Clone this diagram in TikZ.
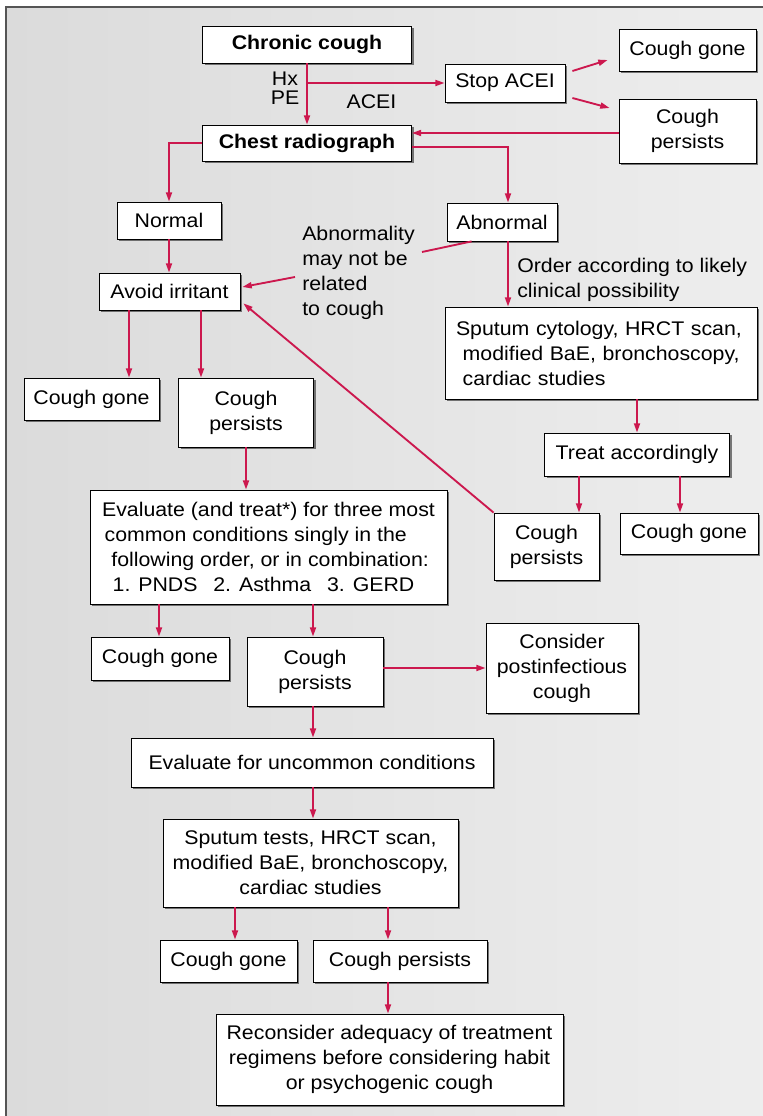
\documentclass[tikz,border=0pt]{standalone}
\usepackage{fontspec}
\setmainfont{Liberation Sans}[FakeStretch=1.08]
\usetikzlibrary{arrows.meta,shadows,calc}
\definecolor{arrcol}{RGB}{204,24,78}
\definecolor{framecol}{RGB}{85,85,85}
\definecolor{bgleft}{RGB}{219,219,219}
\definecolor{bgright}{RGB}{238,238,238}
\begin{document}
\begin{tikzpicture}[x=0.75pt,y=-0.75pt,
  every node/.style={font=\fontsize{14.8pt}{18.75pt}\selectfont, inner sep=0pt},
  bx/.style={draw=black, line width=0.6pt, fill=white, align=center,
    drop shadow={shadow xshift=1.6pt, shadow yshift=-1.6pt, opacity=0.5, fill=black}},
  boldtext/.style={font=\fontsize{14.8pt}{18.75pt}\selectfont\bfseries},
  wh/.style 2 args={minimum width=#1*0.75pt, minimum height=#2*0.75pt},
  arr/.style={draw=arrcol, line width=1.4pt, -{Triangle[length=7pt,width=4.5pt]}},
  ln/.style={draw=arrcol, line width=1.4pt},
  lbl/.style={align=left}
]
\useasboundingbox (0,0) rectangle (763,1116);
\fill[white] (0,0) rectangle (763,1116);
\shade[left color=bgleft, right color=bgright] (6,7) rectangle (780,1130);
\draw[framecol, line width=1.5pt] (6,1130) -- (6,7) -- (780,7);

% boxes
\node[bx,boldtext,wh={209}{37}] (cc) at (307,44.5) {Chronic cough};
\node[bx,boldtext,wh={209}{36}] (cr) at (307,143) {Chest radiograph};
\node[bx,wh={120}{38}] (stop) at (505,83) {Stop ACEI};
\node[bx,wh={137}{42}] (cg1) at (687.5,50) {Cough gone};
\node[bx,wh={137}{64}] (cp1) at (687.5,131) {Cough\\persists};
\node[bx,wh={104}{37}] (nor) at (169,220.5) {Normal};
\node[bx,wh={110}{38}] (abn) at (502,222) {Abnormal};
\node[bx,wh={141}{37}] (avo) at (169.5,291.5) {Avoid irritant};
\node[bx,wh={312}{92},align=left,text width=217.5pt] (spc) at (601,353)
  {Sputum cytology, HRCT scan,\\\hspace*{5pt}modified BaE, bronchoscopy,\\\hspace*{5pt}cardiac studies};
\node[bx,wh={135}{42}] (cg2) at (91.5,399) {Cough gone};
\node[bx,wh={135}{69}] (cp2) at (246,412.5) {Cough\\persists};
\node[bx,wh={185}{43}] (treat) at (637,454.5) {Treat accordingly};
\node[bx,wh={357}{114},align=left] (eval) at (268.5,547)
  {Evaluate (and treat*) for three most\\\hspace*{2pt}common conditions singly in the\\\hspace*{7pt}following order, or in combination:\\\hspace*{8pt}1. PNDS\hspace{0.8em}2. Asthma\hspace{0.8em}3. GERD};
\node[bx,wh={105}{67}] (cp3) at (546.5,546.5) {Cough\\persists};
\node[bx,wh={138}{41}] (cg3) at (689,533.5) {Cough gone};
\node[bx,wh={138}{43}] (cg4) at (160,658.5) {Cough gone};
\node[bx,wh={136}{69}] (cp4) at (315,671.5) {Cough\\persists};
\node[bx,wh={152}{90}] (cons) at (562,668) {Consider\\postinfectious\\cough};
\node[bx,wh={362}{49}] (evu) at (312,762.5) {Evaluate for uncommon conditions};
\node[bx,wh={295}{88}] (spt) at (310.5,863) {Sputum tests, HRCT scan,\\modified BaE, bronchoscopy,\\cardiac studies};
\node[bx,wh={137}{42}] (cg5) at (228.5,961) {Cough gone};
\node[bx,wh={174}{42}] (cp5) at (400,961) {Cough persists};
\node[bx,wh={347}{91}] (rec) at (389.5,1059.5) {Reconsider adequacy of treatment\\regimens before considering habit\\or psychogenic cough};

% labels
\node[align=center, font=\fontsize{14.8pt}{14.25pt}\selectfont] (hxpe) at (285,88.5) {Hx\\PE};
\node (acei) at (371.5,102) {ACEI};
\node[lbl,anchor=north west] (abt) at (302,226) {Abnormality\\may not be\\related\\to cough};
\node[lbl,anchor=north west] (ord) at (517,258) {Order according to likely\\clinical possibility};

% connectors
\draw[arr] (cc.south) -- (cr.north);
\coordinate (br) at (cc.south |- stop.west);
\draw[arr] (br) -- (stop.west);
\draw[arr] ($(stop.east)+(7,-12)$) -- ($(cg1.west)+(-11,10)$);
\draw[arr] ($(stop.east)+(7,15)$) -- ($(cp1.west)+(-9,-23)$);
\draw[arr] (cp1.west |- 0,133) -- (cr.east |- 0,133);
\draw[arr] (cr.west) -| (nor.north);
\draw[arr] (cr.east |- 0,147) -| (abn.north -| 508,0);
\draw[arr] (nor.south) -- (nor.south |- avo.north);
\coordinate (a1) at ($(abn.south west)+(25,0)$);
\coordinate (a2) at (422,252);
\draw[ln] (a1) -- (a2);
\coordinate (a3) at (295,277);
\draw[arr] (a3) -- ($(avo.east)+(2,-4.5)$);
\draw[arr] (abn.south -| 508,0) -- (spc.north -| 508,0);
\draw[arr] (avo.south -| 129,0) -- (cg2.north -| 129,0);
\draw[arr] (avo.south -| 201,0) -- (cp2.north -| 201,0);
\draw[arr] (cp2.south) -- (cp2.south |- eval.north);
\draw[arr] (spc.south -| treat.north) -- (treat.north);
\draw[arr] (treat.south -| 579,0) -- (cp3.north -| 579,0);
\draw[arr] (treat.south -| 680,0) -- (cg3.north -| 680,0);
\draw[arr] (cp3.north west) -- ($(avo.south east)+(3,-7)$);
\draw[arr] (eval.south -| 159,0) -- (cg4.north -| 159,0);
\draw[arr] (eval.south -| 313,0) -- (cp4.north -| 313,0);
\draw[arr] (cp4.east |- 0,668) -- (cons.west |- 0,668);
\draw[arr] (cp4.south -| 313,0) -- (evu.north -| 313,0);
\draw[arr] (evu.south -| 313,0) -- (spt.north -| 313,0);
\draw[arr] (spt.south -| 235,0) -- (cg5.north -| 235,0);
\draw[arr] (spt.south -| 388,0) -- (cp5.north -| 388,0);
\draw[arr] (cp5.south -| 388,0) -- (rec.north -| 388,0);
\end{tikzpicture}
\end{document}
